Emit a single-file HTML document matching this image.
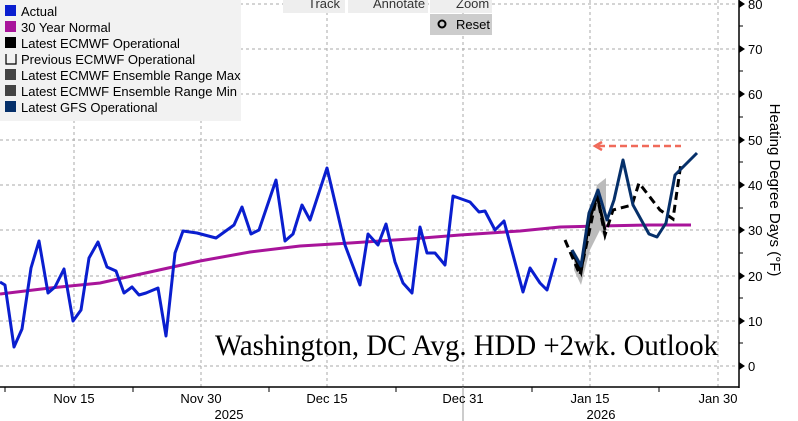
<!DOCTYPE html>
<html><head><meta charset="utf-8"><style>
body{margin:0;background:#fff;width:798px;height:421px;overflow:hidden}
svg{display:block;font-family:"Liberation Sans",sans-serif}
</style></head><body>
<svg width="798" height="421" viewBox="0 0 798 421">
<g stroke="#aaa" stroke-width="1" stroke-dasharray="3,3" fill="none">
<line x1="0" y1="4" x2="738" y2="4"/><line x1="0" y1="49" x2="738" y2="49"/><line x1="0" y1="94" x2="738" y2="94"/><line x1="0" y1="140" x2="738" y2="140"/><line x1="0" y1="185" x2="738" y2="185"/><line x1="0" y1="230" x2="738" y2="230"/><line x1="0" y1="276" x2="738" y2="276"/><line x1="0" y1="321" x2="738" y2="321"/><line x1="0" y1="366" x2="738" y2="366"/>
<line x1="74" y1="0" x2="74" y2="387"/><line x1="201" y1="0" x2="201" y2="387"/><line x1="327" y1="0" x2="327" y2="387"/><line x1="463" y1="0" x2="463" y2="387"/><line x1="590" y1="0" x2="590" y2="387"/><line x1="718" y1="0" x2="718" y2="387"/>
</g>
<rect x="0" y="0" width="241" height="121" fill="#f2f2f2"/>
<g font-size="13" fill="#000">
<rect x="5" y="5" width="11" height="11" fill="#0a1ecf"/><text x="21" y="16">Actual</text>
<rect x="5" y="21" width="11" height="11" fill="#a8149a"/><text x="21" y="32">30 Year Normal</text>
<rect x="5" y="37" width="11" height="11" fill="#000"/><text x="21" y="48">Latest ECMWF Operational</text>
<path d="M6,54 V64 H16 V54" fill="none" stroke="#000" stroke-width="1.2"/><text x="21" y="64">Previous ECMWF Operational</text>
<rect x="5" y="69" width="11" height="11" fill="#444"/><text x="21" y="80">Latest ECMWF Ensemble Range Max</text>
<rect x="5" y="85" width="11" height="11" fill="#444"/><text x="21" y="96">Latest ECMWF Ensemble Range Min</text>
<rect x="5" y="101" width="11" height="11" fill="#06306a"/><text x="21" y="112">Latest GFS Operational</text>
</g>
<g font-size="13" fill="#333">
<rect x="283" y="0" width="62" height="13" fill="#eee"/><text x="308" y="8">Track</text>
<rect x="348" y="0" width="80" height="13" fill="#eee"/><text x="373" y="8">Annotate</text>
<rect x="430" y="0" width="62" height="13" fill="#eee"/><text x="456" y="8">Zoom</text>
<rect x="430" y="14" width="62" height="21" fill="#ccc"/><circle cx="442" cy="24" r="3.5" fill="none" stroke="#000" stroke-width="2"/><text x="456" y="29" fill="#000">Reset</text>
</g>
<polyline fill="none" stroke="#a8149a" stroke-width="3" points="0,294 50,288 100,283 150,272 200,261 250,252 300,246 350,243 410,239 460,235 520,231 560,227 600,226 650,225 691,225"/>
<polyline fill="none" stroke="#0a1ecf" stroke-width="3" stroke-linejoin="round" points="0,282 5,285 14,347 22,329 31,268 39,241 48,293 55,287 64,269 73,321 81,310 89,258 98,242 107,267 116,271 124,293 132,287 139,295 146,293 158,288 166,336 175,253 183,231 197,233 216,238 234,225 242,207 251,234 259,230 276,180 285,241 293,234 302,205 310,220 327,168 345,245 360,285 368,234 378,245 386,224 395,262 403,283 412,293 420,227 427,253 435,253 445,265 453,196 470,202 479,212 485,211 495,230 504,221 512,251 523,292 530,268 540,283 547,290 556,258"/>
<polygon fill="#bbb" points="574,250 581,262 590,215 597,185 606,178 606,240 600,230 590,250 581,285 574,270"/>
<polyline fill="none" stroke="#000" stroke-width="3" stroke-dasharray="8,5" points="565,240 580,275 597,195 605,235 613,210 632,205 639,183 660,210 673,219 681,163"/>
<polyline fill="none" stroke="#000" stroke-width="3" points="572,250 581,272 589,222 597,195 605,230"/>
<polyline fill="none" stroke="#06306a" stroke-width="3" stroke-linejoin="round" points="572,250 581,266 589,213 598,190 607,220 614,200 623,160 633,205 649,234 657,237 666,223 675,175 697,153"/>
<line x1="598" y1="146" x2="681" y2="146" stroke="#f06a5a" stroke-width="2.5" stroke-dasharray="7,4"/>
<polyline points="602,142 595,146 602,150" fill="none" stroke="#f06a5a" stroke-width="2.5"/>
<text x="215" y="355" textLength="503" lengthAdjust="spacingAndGlyphs" font-family="Liberation Serif,serif" font-size="30" fill="#000">Washington, DC Avg. HDD +2wk. Outlook</text>
<line x1="739" y1="0" x2="739" y2="388" stroke="#000" stroke-width="1.5"/>
<line x1="0" y1="387" x2="739" y2="387" stroke="#000" stroke-width="1.5"/>
<g fill="#000">
<path d="M739,0 l6,4 l-6,4z"/><path d="M739,45 l6,4 l-6,4z"/><path d="M739,90 l6,4 l-6,4z"/><path d="M739,136 l6,4 l-6,4z"/><path d="M739,181 l6,4 l-6,4z"/><path d="M739,226 l6,4 l-6,4z"/><path d="M739,272 l6,4 l-6,4z"/><path d="M739,317 l6,4 l-6,4z"/><path d="M739,362 l6,4 l-6,4z"/>
</g>
<g stroke="#000" stroke-width="1"><line x1="739" y1="26" x2="743" y2="26"/><line x1="739" y1="71" x2="743" y2="71"/><line x1="739" y1="117" x2="743" y2="117"/><line x1="739" y1="162" x2="743" y2="162"/><line x1="739" y1="208" x2="743" y2="208"/><line x1="739" y1="253" x2="743" y2="253"/><line x1="739" y1="298" x2="743" y2="298"/><line x1="739" y1="343" x2="743" y2="343"/>
<line x1="5" y1="387" x2="5" y2="392"/><line x1="133" y1="387" x2="133" y2="392"/><line x1="269" y1="387" x2="269" y2="392"/><line x1="396" y1="387" x2="396" y2="392"/><line x1="532" y1="387" x2="532" y2="392"/><line x1="659" y1="387" x2="659" y2="392"/>
<line x1="463" y1="387" x2="463" y2="421" stroke="#999"/></g>
<g font-size="13" fill="#000">
<text x="748" y="9">80</text><text x="748" y="54">70</text><text x="748" y="99">60</text><text x="748" y="145">50</text><text x="748" y="190">40</text><text x="748" y="235">30</text><text x="748" y="281">20</text><text x="748" y="326">10</text><text x="748" y="371">0</text>
</g>
<g font-size="13" fill="#000" text-anchor="middle">
<text x="74" y="403">Nov 15</text><text x="201" y="403">Nov 30</text><text x="327" y="403">Dec 15</text><text x="463" y="403">Dec 31</text><text x="590" y="403">Jan 15</text><text x="718" y="403">Jan 30</text>
<text x="229" y="419">2025</text><text x="601" y="419">2026</text>
</g>
<text transform="translate(770,190) rotate(90)" text-anchor="middle" font-size="15" fill="#000">Heating Degree Days (°F)</text>
</svg>
</body></html>
